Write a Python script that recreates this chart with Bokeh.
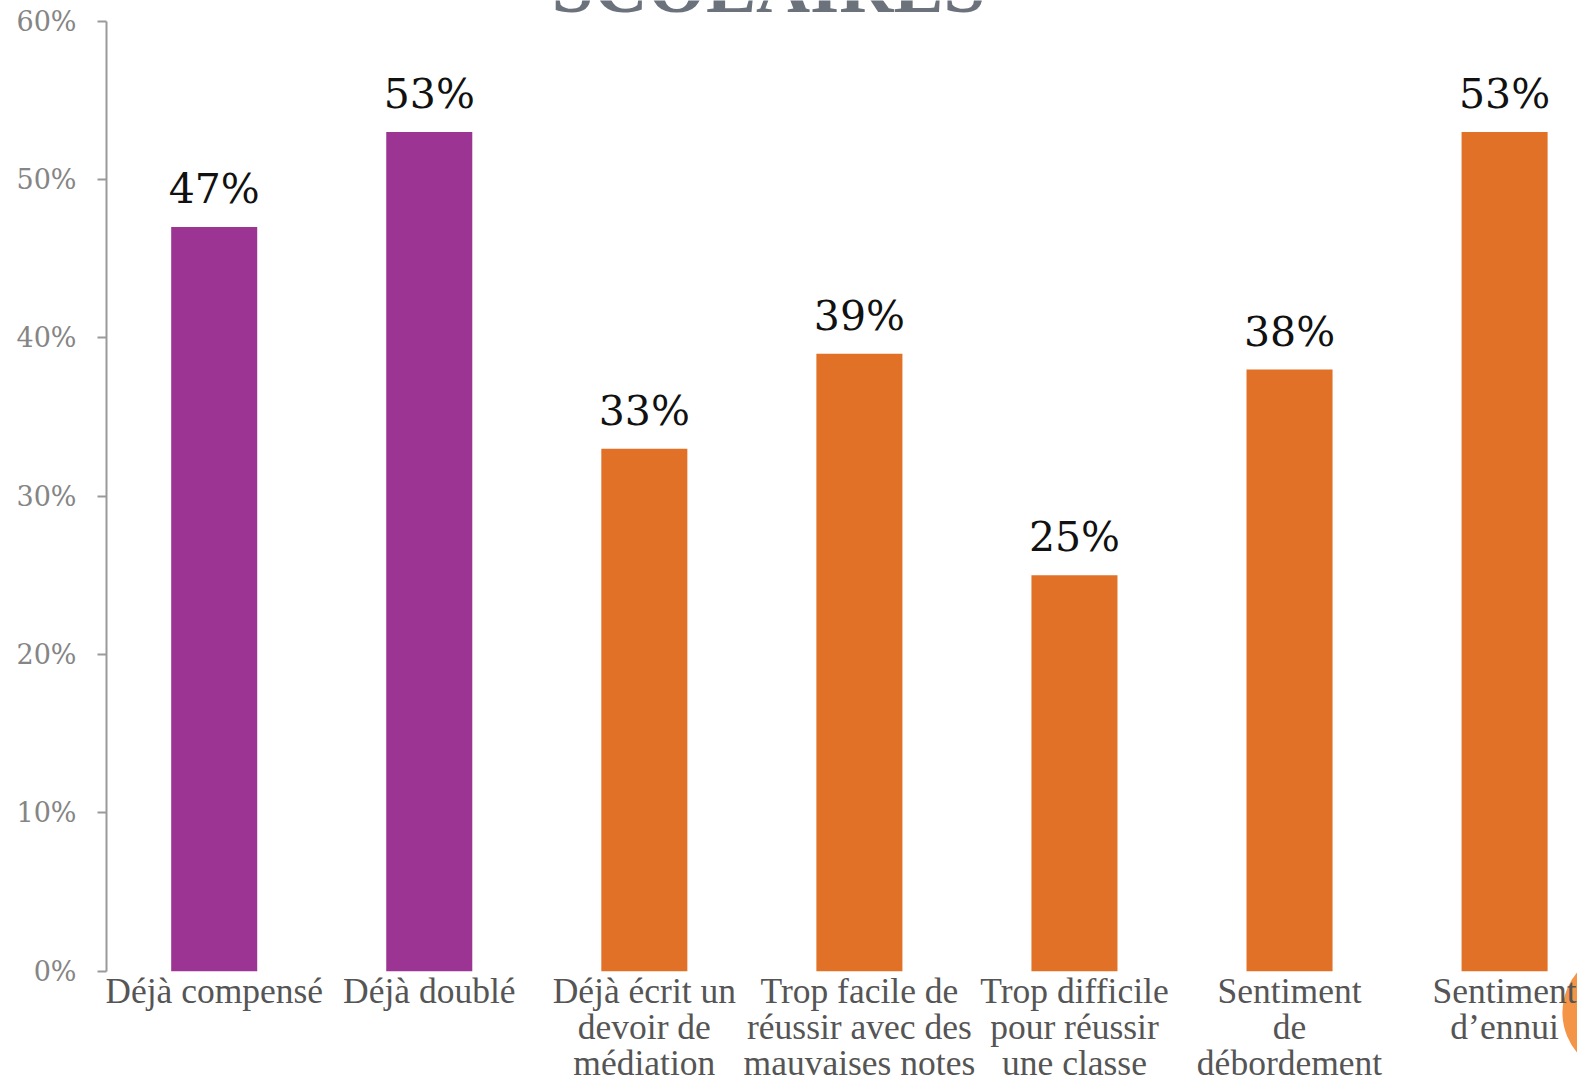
from bokeh.plotting import figure
from bokeh.models import Range1d, FixedTicker, PrintfTickFormatter
from bokeh.core.properties import value
from bokeh.embed import file_html
from bokeh.resources import INLINE

categories = [
    "Déjà compensé",
    "Déjà doublé",
    "Déjà écrit un\ndevoir de\nmédiation",
    "Trop facile de\nréussir avec des\nmauvaises notes",
    "Trop difficile\npour réussir\nune classe",
    "Sentiment\nde\ndébordement",
    "Sentiment\nd’ennui",
]
values = [47, 53, 33, 39, 25, 38, 53]
value_labels = ["47%", "53%", "33%", "39%", "25%", "38%", "53%"]
groups = ["purple", "purple", "orange", "orange", "orange", "orange", "orange"]
y_ticks = [0, 10, 20, 30, 40, 50, 60]
title_text = "SCOLAIRES"

palette = {"purple": "#9b3492", "orange": "#e07126"}
colors = [palette[g] for g in groups]
xs = list(range(len(categories)))

p = figure(
    width=1577, height=1079,
    x_range=Range1d(-0.5008, 6.339),
    y_range=Range1d(-6.842, 61.307),
    output_backend="svg", toolbar_location=None,
    min_border_left=106, min_border_right=0, min_border_top=0, min_border_bottom=0,
)
p.outline_line_color = None
p.xgrid.visible = False
p.ygrid.visible = False
p.xaxis.visible = False
p.background_fill_color = "white"
p.border_fill_color = "white"

# decorative slide dot (bottom right)
p.circle(x=[6.557], y=[-2.61], radius=0.288, color="#f39447", line_color=None)

p.vbar(x=xs, top=values, width=0.40, color=colors, line_color=None)

p.text(x=xs, y=values, text=value_labels, text_align="center",
       text_baseline="alphabetic", y_offset=-38,
       text_font=value("DejaVu Serif"), text_font_size="41px", text_color="#111111")

# category labels under the bars
p.text(x=xs, y=[0] * len(xs), text=categories, text_align="center",
       text_baseline="top", y_offset=0, text_line_height=0.9,
       text_font=value("Liberation Serif"), text_font_size="35.5px", text_color="#555555")

# cut-off slide title at the top
p.text(x=[2.577], y=[62.19], text=[title_text], text_align="center",
       text_baseline="alphabetic", text_font=value("Liberation Serif"),
       text_font_style="bold", text_font_size="75px", text_color="#6b727c")

# y axis
ya = p.yaxis[0]
ya.ticker = FixedTicker(ticks=y_ticks)
ya.bounds = (0, 60)
ya.formatter = PrintfTickFormatter(format="%d%%")
ya.axis_line_color = "#9a9a9a"
ya.axis_line_width = 2
ya.major_tick_line_color = "#9a9a9a"
ya.major_tick_line_width = 2
ya.major_tick_out = 9
ya.major_tick_in = 0
ya.minor_tick_line_color = None
ya.major_label_standoff = 21
ya.major_label_text_font = "DejaVu Serif"
ya.major_label_text_font_size = "27px"
ya.major_label_text_color = "#858585"

open("out.html", "w").write(file_html(p, INLINE))
